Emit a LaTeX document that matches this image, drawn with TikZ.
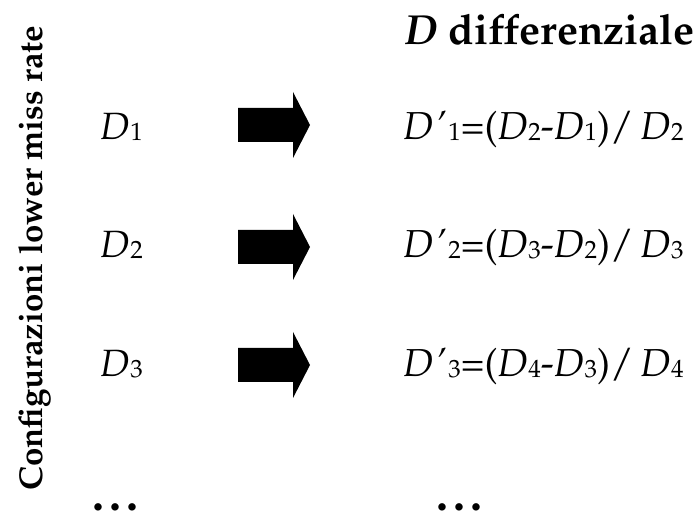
\documentclass[tikz,border=0pt]{standalone}
\usepackage[T1]{fontenc}
\usepackage{mathpazo}
\usepackage{tikz}

\newcommand{\dd}[1]{\textit{D}\kern0.5pt\raisebox{-1pt}{\fontsize{25}{30}\selectfont #1}}
\newcommand{\ddp}[1]{\textit{D}\kern2pt\textit{'}\kern2pt\raisebox{-1pt}{\fontsize{25}{30}\selectfont #1}}

\begin{document}
\begin{tikzpicture}[x=1pt, y=1pt, every node/.style={inner sep=0pt},
	row/.style={font=\fontsize{38}{44}\selectfont, anchor=base west},
	blk/.style={fill=black}]
	\useasboundingbox (0,0) rectangle (699,514);
	% side label
	\node[font=\fontsize{33}{36}\selectfont\bfseries, rotate=90, anchor=base] (side) at (42,256) {Configurazioni lower miss rate};
	% title
	\node[font=\fontsize{42}{46}\selectfont\bfseries, anchor=base west] (title) at (405,469) {\textit{D} differenziale};
	% rows
	\node[row] (d1) at (100,374) {\dd1};
	\node[row] (d2) at (100,256) {\dd2};
	\node[row] (d3) at (100,137) {\dd3};
	\node[row, font=\fontsize{39}{44}\selectfont] (r1) at (403,374) {\ddp1=(\dd2-\dd1)/\,\dd2};
	\node[row, font=\fontsize{39}{44}\selectfont] (r2) at (403,256) {\ddp2=(\dd3-\dd2)/\,\dd3};
	\node[row, font=\fontsize{39}{44}\selectfont] (r3) at (403,137) {\ddp3=(\dd4-\dd3)/\,\dd4};
	% block arrows
	\foreach \cy/\nm in {389/a1, 267/a2, 149/a3} {
		\fill[blk] (238,\cy+17) -- (293,\cy+17) -- (293,\cy+33) -- (310,\cy) coordinate (\nm)
			-- (293,\cy-33) -- (293,\cy-17) -- (238,\cy-17) -- cycle;
	}
	% dots
	\node[font=\fontsize{48}{50}\selectfont\bfseries, anchor=base west] (dl) at (92,3) {.\kern5pt.\kern5pt.};
	\node[font=\fontsize{48}{50}\selectfont\bfseries, anchor=base west] (dr) at (436,3) {.\kern5pt.\kern5pt.};
\end{tikzpicture}
\end{document}
